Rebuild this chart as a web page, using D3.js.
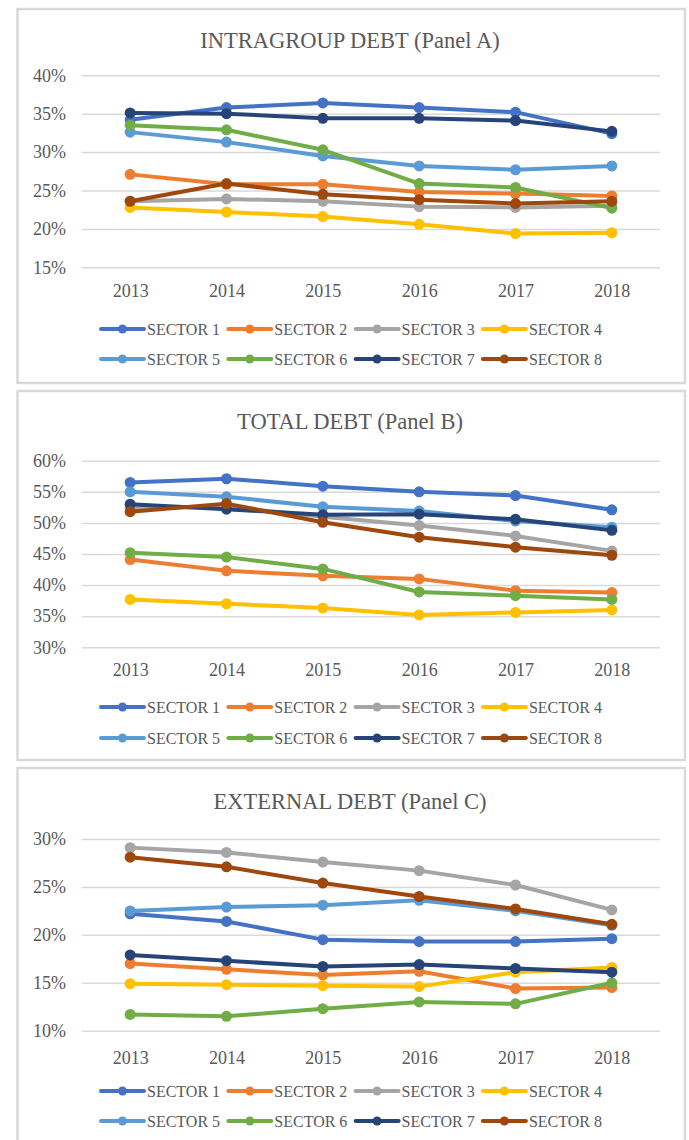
<!DOCTYPE html>
<html>
<head>
<meta charset="utf-8">
<script src="https://cdn.jsdelivr.net/npm/d3@7"></script>
<style>
  body { margin: 0; background: #fff; }
  svg { display: block; }
  text { font-family: "Liberation Serif", "Times New Roman", serif; fill: #595959; }
</style>
</head>
<body>
<div id="chart"></div>
<script>
const years = ["2013", "2014", "2015", "2016", "2017", "2018"];
const sectors = ["SECTOR 1", "SECTOR 2", "SECTOR 3", "SECTOR 4", "SECTOR 5", "SECTOR 6", "SECTOR 7", "SECTOR 8"];
const colors = ["#4472C4", "#ED7D31", "#A5A5A5", "#FFC000", "#5B9BD5", "#70AD47", "#264478", "#9E480E"];

// values in %, one row per sector
const intragroup = [
  [34.2, 35.8, 36.4, 35.8, 35.2, 32.4],
  [27.1, 25.8, 25.8, 24.8, 24.6, 24.3],
  [23.6, 23.9, 23.6, 22.9, 22.8, 23.0],
  [22.8, 22.2, 21.6, 20.6, 19.4, 19.5],
  [32.6, 31.3, 29.5, 28.2, 27.7, 28.2],
  [33.5, 32.9, 30.3, 25.9, 25.4, 22.7],
  [35.1, 35.0, 34.4, 34.4, 34.1, 32.7],
  [23.6, 25.9, 24.5, 23.8, 23.3, 23.6]
];
const totalDebt = [
  [56.5, 57.1, 55.9, 55.0, 54.4, 52.1],
  [44.1, 42.3, 41.5, 41.0, 39.1, 38.8],
  [52.4, 52.6, 51.0, 49.6, 47.9, 45.5],
  [37.7, 37.0, 36.3, 35.2, 35.6, 36.0],
  [55.0, 54.2, 52.6, 51.9, 50.3, 49.3],
  [45.2, 44.5, 42.6, 38.9, 38.3, 37.7],
  [53.0, 52.2, 51.3, 51.4, 50.6, 48.8],
  [51.8, 53.1, 50.1, 47.7, 46.1, 44.8]
];
const externalDebt = [
  [22.2, 21.4, 19.5, 19.3, 19.3, 19.6],
  [17.0, 16.4, 15.8, 16.2, 14.4, 14.5],
  [29.1, 28.6, 27.6, 26.7, 25.2, 22.6],
  [14.9, 14.8, 14.7, 14.6, 16.1, 16.6],
  [22.5, 22.9, 23.1, 23.6, 22.5, 21.0],
  [11.7, 11.5, 12.3, 13.0, 12.8, 15.0],
  [17.9, 17.3, 16.7, 16.9, 16.5, 16.1],
  [28.1, 27.1, 25.4, 24.0, 22.7, 21.1]
];
const ticksA = [15, 20, 25, 30, 35, 40];
const ticksB = [30, 35, 40, 45, 50, 55, 60];
const ticksC = [10, 15, 20, 25, 30];

const width = 689, height = 1140;
const plotLeft = 82, plotRight = 660;

const panels = [
  { title: "INTRAGROUP DEBT (Panel A)", data: intragroup, ticks: ticksA,
    top: 9, bottom: 383, titleY: 40, gridTop: 75.3, gridBottom: 267.3, yearY: 291, legendY: [329, 359] },
  { title: "TOTAL DEBT (Panel B)", data: totalDebt, ticks: ticksB,
    top: 391, bottom: 760, titleY: 421, gridTop: 460.7, gridBottom: 647.3, yearY: 670, legendY: [707, 738] },
  { title: "EXTERNAL DEBT (Panel C)", data: externalDebt, ticks: ticksC,
    top: 768, bottom: 1160, titleY: 801, gridTop: 839, gridBottom: 1030.7, yearY: 1058, legendY: [1091, 1121] }
];

const svg = d3.select("#chart")
  .append("svg")
  .attr("width", width)
  .attr("height", height)
  .attr("viewBox", [0, 0, width, height]);

const x = d3.scalePoint()
  .domain(years)
  .range([plotLeft, plotRight])
  .padding(0.5);

panels.forEach(p => {
  const g = svg.append("g");

  // panel frame
  g.append("rect")
    .attr("x", 17.5)
    .attr("y", p.top)
    .attr("width", 667.5)
    .attr("height", p.bottom - p.top)
    .attr("fill", "#fff")
    .attr("stroke", "#d9d9d9")
    .attr("stroke-width", 2.5);

  g.append("text")
    .attr("x", 350)
    .attr("y", p.titleY)
    .attr("dy", "0.35em")
    .attr("text-anchor", "middle")
    .style("font-size", "22.5px")
    .text(p.title);

  const y = d3.scaleLinear()
    .domain(d3.extent(p.ticks))
    .range([p.gridBottom, p.gridTop]);

  // gridlines + labels via axis
  const yAxis = g.append("g")
    .attr("transform", `translate(${plotLeft},0)`)
    .call(d3.axisLeft(y)
      .tickValues(p.ticks)
      .tickSize(-(plotRight - plotLeft))
      .tickPadding(16)
      .tickFormat(d => d + "%"));
  yAxis.select(".domain").remove();
  yAxis.selectAll(".tick line").attr("stroke", "#d9d9d9").attr("stroke-width", 1.5);
  yAxis.selectAll(".tick text")
    .attr("fill", "#595959")
    .style("font-family", "'Liberation Serif', serif")
    .style("font-size", "18px");

  const xAxis = g.append("g")
    .attr("transform", `translate(0,${p.yearY})`)
    .call(d3.axisBottom(x).tickSize(0).tickPadding(0));
  xAxis.select(".domain").remove();
  xAxis.selectAll(".tick text")
    .attr("dy", "0.35em")
    .attr("fill", "#595959")
    .style("font-family", "'Liberation Serif', serif")
    .style("font-size", "18px");

  const line = d3.line()
    .x((d, i) => x(years[i]))
    .y(d => y(d));

  p.data.forEach((series, s) => {
    const sg = g.append("g");
    sg.append("path")
      .datum(series)
      .attr("fill", "none")
      .attr("stroke", colors[s])
      .attr("stroke-width", 4)
      .attr("stroke-linejoin", "round")
      .attr("d", line);
    sg.selectAll("circle")
      .data(series)
      .join("circle")
      .attr("cx", (d, i) => x(years[i]))
      .attr("cy", d => y(d))
      .attr("r", 5.5)
      .attr("fill", colors[s]);
  });

  // legend, two rows of four
  const legend = g.append("g");
  sectors.forEach((name, s) => {
    const col = s % 4, row = Math.floor(s / 4);
    const lx = 101 + col * 127.3;
    const ly = p.legendY[row];
    const item = legend.append("g").attr("transform", `translate(${lx},${ly})`);
    item.append("line")
      .attr("x1", 0).attr("x2", 43)
      .attr("stroke", colors[s])
      .attr("stroke-width", 4)
      .attr("stroke-linecap", "round");
    item.append("circle")
      .attr("cx", 21.5)
      .attr("r", 4.5)
      .attr("fill", colors[s]);
    item.append("text")
      .attr("x", 46)
      .attr("dy", "0.35em")
      .style("font-size", "16px")
      .text(name);
  });
});
</script>
</body>
</html>
